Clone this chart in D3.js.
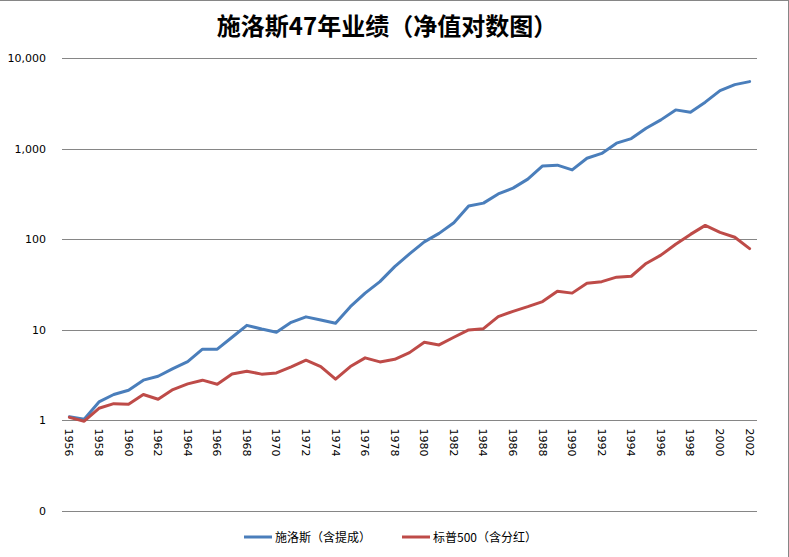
<!DOCTYPE html>
<html>
<head>
<meta charset="utf-8">
<script src="https://cdn.jsdelivr.net/npm/d3@7"></script>
<style>
  html, body { margin: 0; padding: 0; background: #fff; }
  svg { display: block; }
</style>
</head>
<body>
<svg id="chart" width="789" height="557"></svg>
<script>
const years = d3.range(1956, 2003);
const schlossValues = [1.10, 1.03, 1.60, 1.93, 2.15, 2.78, 3.07, 3.73, 4.46, 6.11,
  6.11, 8.28, 11.2, 10.2, 9.4, 12.1, 13.9, 12.8, 11.8, 18.0,
  25.4, 34.0, 49.8, 68.8, 93.4, 116, 152, 233, 250, 316,
  366, 460, 644, 656, 582, 783, 885, 1148, 1290, 1680,
  2075, 2675, 2525, 3253, 4365, 5085, 5485];
const sp500Values = [1.08, 0.98, 1.36, 1.53, 1.51, 1.93, 1.71, 2.19, 2.53, 2.78,
  2.51, 3.26, 3.49, 3.24, 3.34, 3.90, 4.62, 3.93, 2.85, 3.93,
  4.90, 4.42, 4.73, 5.60, 7.29, 6.81, 8.28, 9.97, 10.3, 14.0,
  16.0, 18.0, 20.5, 26.7, 25.4, 32.7, 34.0, 38.1, 39.0, 54.0,
  66.7, 88.0, 113, 142, 119, 105, 78.7];
const yTicks = [0.1, 1, 10, 100, 1000, 10000];
const yTickLabels = ["0", "1", "10", "100", "1,000", "10,000"];
const seriesNames = ["施洛斯（含提成）", "标普500（含分红）"];
const seriesColors = ["#4a7ebb", "#be4b48"];
const chartTitle = "施洛斯47年业绩（净值对数图）";

const svg = d3.select("#chart");
const W = 789, H = 557;
const plotLeft = 62, plotRight = 757, plotTop = 58, plotBottom = 511;

// border (top and right visible)
svg.append("line").attr("x1", 0).attr("x2", W).attr("y1", 0.5).attr("y2", 0.5)
  .attr("stroke", "#868686").attr("stroke-width", 1);
svg.append("line").attr("x1", W - 0.5).attr("x2", W - 0.5).attr("y1", 0).attr("y2", H)
  .attr("stroke", "#868686").attr("stroke-width", 1);

const x = d3.scaleBand().domain(years).range([plotLeft, plotRight]);
const y = d3.scaleLog().domain([0.1, 10000]).range([plotBottom, plotTop]);

// title
svg.append("text").attr("x", 387).attr("y", 35)
  .attr("text-anchor", "middle")
  .attr("font-family", "'Noto Sans CJK SC', sans-serif")
  .attr("font-weight", "bold").attr("font-size", 24)
  .attr("fill", "#000").text(chartTitle);

// gridlines
svg.append("g").selectAll("line").data(yTicks).join("line")
  .attr("x1", plotLeft).attr("x2", plotRight)
  .attr("y1", d => Math.round(y(d)) + 0.5).attr("y2", d => Math.round(y(d)) + 0.5)
  .attr("stroke", "#868686").attr("stroke-width", 1);

// y labels
svg.append("g").selectAll("text").data(yTicks).join("text")
  .attr("x", 46).attr("y", d => y(d) + 4)
  .attr("text-anchor", "end")
  .attr("font-family", "'DejaVu Sans', sans-serif").attr("font-size", 11)
  .attr("fill", "#000")
  .text((d, i) => yTickLabels[i]);

// x labels (rotated, every 2 years)
const yAxisCross = y(1);
svg.append("g").selectAll("text").data(years.filter(d => d % 2 === 0)).join("text")
  .attr("transform", d => `translate(${x(d) + x.bandwidth() / 2 - 4},${yAxisCross + 8}) rotate(90)`)
  .attr("text-anchor", "start")
  .attr("font-family", "'DejaVu Sans', sans-serif").attr("font-size", 11)
  .attr("fill", "#000")
  .text(d => d);

// lines
const line = d3.line()
  .x((d, i) => x(years[i]) + x.bandwidth() / 2)
  .y(d => y(d));
[schlossValues, sp500Values].forEach((vals, k) => {
  svg.append("path").datum(vals)
    .attr("d", line)
    .attr("fill", "none")
    .attr("stroke", seriesColors[k])
    .attr("stroke-width", 3)
    .attr("stroke-linejoin", "round")
    .attr("stroke-linecap", "round");
});

// legend
const legendX = [244, 402];
seriesNames.forEach((name, k) => {
  const g = svg.append("g").attr("transform", `translate(${legendX[k]},537)`);
  g.append("line").attr("x1", 0).attr("x2", 28).attr("y1", 0).attr("y2", 0)
    .attr("stroke", seriesColors[k]).attr("stroke-width", 3);
  g.append("text").attr("x", 31).attr("y", 4.5)
    .attr("font-family", "'Noto Sans CJK SC', sans-serif").attr("font-size", 12)
    .attr("fill", "#000").text(name);
});
</script>
</body>
</html>
